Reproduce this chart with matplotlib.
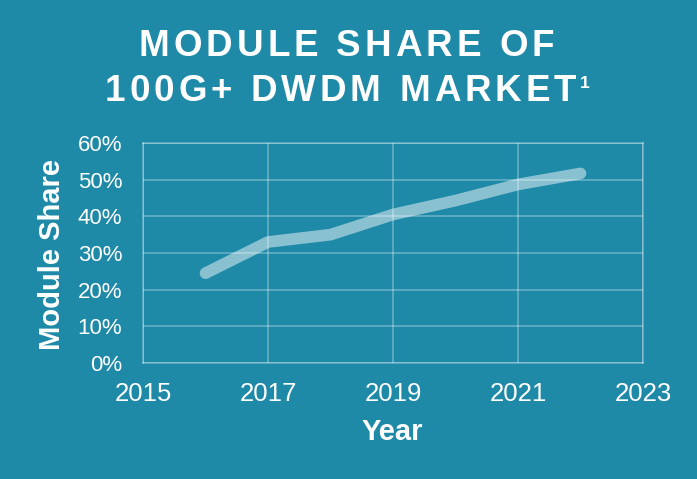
import matplotlib
matplotlib.use("Agg")
import matplotlib.pyplot as plt
from matplotlib.font_manager import FontProperties
from matplotlib.transforms import offset_copy
from matplotlib.ticker import FuncFormatter

# ---- data ----
years = [2016, 2017, 2018, 2019, 2020, 2021, 2022]
share = [24.5, 33.0, 35.0, 40.5, 44.3, 48.7, 51.7]
x_ticks = [2015, 2017, 2019, 2021, 2023]
y_ticks = [0, 10, 20, 30, 40, 50, 60]
title_lines = ["MODULE SHARE OF", "100G+ DWDM MARKET"]
title_sup = "1"
x_label = "Year"
y_label = "Module Share"

BG = "#1f8aa8"
FONT = "Liberation Sans"
DPI = 100

plt.rcParams['font.family'] = [FONT, 'DejaVu Sans']

fig = plt.figure(figsize=(6.97, 4.79), dpi=DPI, facecolor=BG)
ax = fig.add_axes([143/697, 1-363/479, 500/697, 220/479])
ax.set_facecolor(BG)

ax.plot(years, share, color="white", alpha=0.48, lw=8.4,
        solid_capstyle="round", solid_joinstyle="round", zorder=3)

ax.set_xlim(2015, 2023)
ax.set_ylim(0, 60)
ax.set_xticks(x_ticks)
ax.set_yticks(y_ticks)
ax.yaxis.set_major_formatter(FuncFormatter(lambda v, p: f"{int(v)}%"))
ax.grid(True, color="white", alpha=0.35, lw=1.1)
for s in ax.spines.values():
    s.set_color((1, 1, 1, 0.35))
    s.set_linewidth(1.1)
ax.tick_params(axis="both", length=0, colors="white")
ax.tick_params(axis="y", labelsize=16, pad=15)
ax.tick_params(axis="x", labelsize=18.5, pad=14)

fig.text(52/697, 1-254/479, y_label, rotation=90, ha="center", va="center",
         color="white", fontsize=21, fontweight="bold")
fig.text(392/697, 1-440/479, x_label, ha="center", va="baseline",
         color="white", fontsize=21, fontweight="bold")

renderer = fig.canvas.get_renderer()


def spaced_text(x, y, s, spacing_px, size, weight="bold", color="white"):
    prop = FontProperties(family=FONT, size=size, weight=weight)

    def w(t):
        return renderer.get_text_width_height_descent(t, prop, ismath=False)[0]

    wl = w("l")
    pos = [0.0] + [w(s[:i] + "l") - wl for i in range(1, len(s))]
    total = w(s) + (len(s) - 1) * spacing_px
    start = -total / 2
    for i, c in enumerate(s):
        if c == " ":
            continue
        tr = offset_copy(fig.transFigure, fig=fig,
                         x=(start + pos[i] + i * spacing_px) * 72 / DPI,
                         y=0, units="points")
        fig.text(x, y, c, transform=tr, ha="left", va="baseline",
                 fontproperties=prop, color=color)
    return start + total


spaced_text(0.5 - 2/697, 1-56/479, title_lines[0], 4.0, 26.5)
end = spaced_text(0.5 - 8/697, 1-101/479, title_lines[1], 4.0, 26.5)
sup_tr = offset_copy(fig.transFigure, fig=fig, x=(end + 4) * 72 / DPI, y=0, units="points")
fig.text(0.5 - 8/697, 1-88/479, title_sup, transform=sup_tr, ha="left", va="baseline",
         color="white", fontsize=12.5, fontweight="bold")

fig.savefig("out.png", dpi=DPI, facecolor=BG)
